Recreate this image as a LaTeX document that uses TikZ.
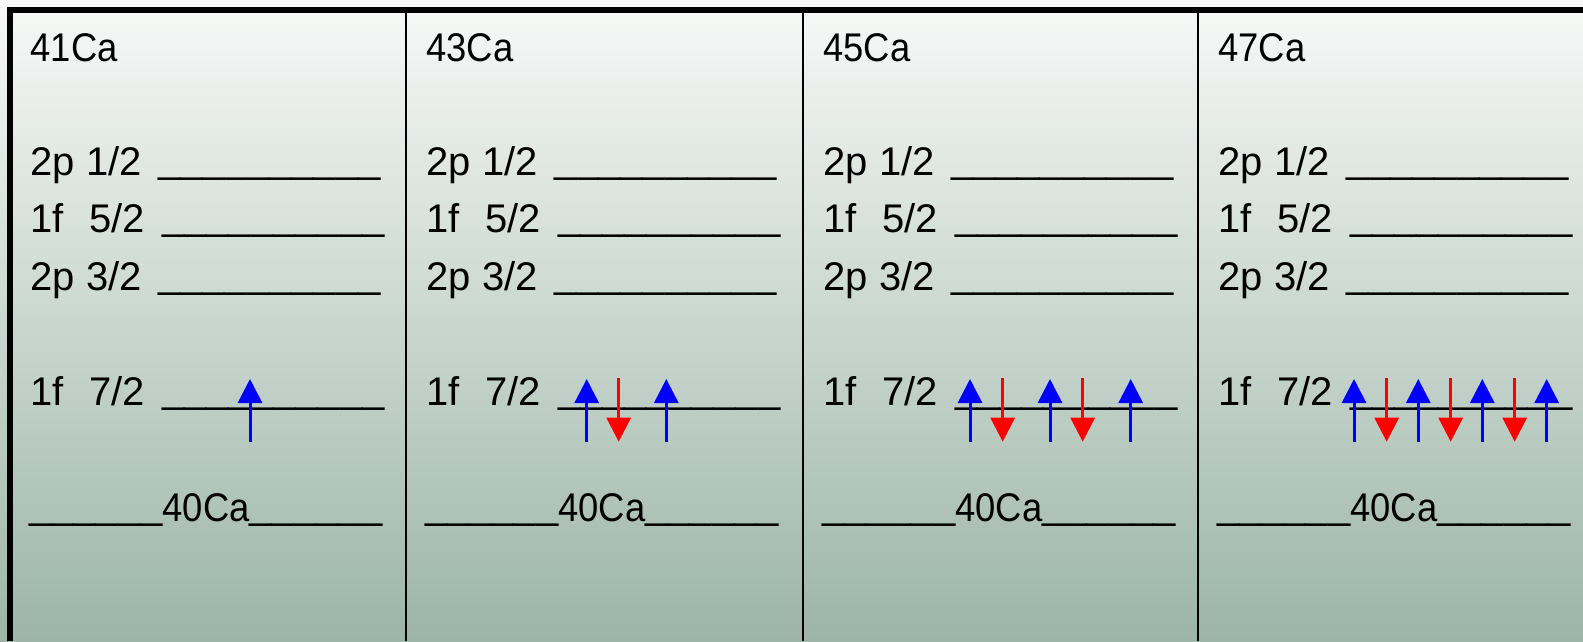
\documentclass[tikz,border=0pt]{standalone}
\usepackage{fontspec}
\setmainfont{Liberation Sans}
\newfontfamily\narrowfont[FakeStretch=0.91]{Liberation Sans}
\usetikzlibrary{arrows.meta}
\definecolor{bgtop}{RGB}{248,249,248}
\definecolor{bgmid}{RGB}{218,226,221}
\definecolor{bgbot}{RGB}{156,181,168}
\definecolor{spinup}{RGB}{0,0,255}
\definecolor{spindown}{RGB}{255,0,0}
\tikzset{
  lbl/.style={anchor=base west, inner sep=0pt, outer sep=0pt, font=\fontsize{40}{48}\selectfont, text=black},
  lvl/.style={lbl},
  frame/.style={draw=black, line width=6pt},
  divider/.style={draw=black, line width=2.5pt},
  upspin/.style={draw=spinup, line width=3pt, -{Triangle[length=24pt,width=24pt]}},
  downspin/.style={draw=spindown, line width=3pt, -{Triangle[length=24pt,width=24pt]}},
}
\newcommand{\uls}[1]{\raisebox{3pt}{#1}}
\newcommand{\mypanel}[3]{%
  \node[lbl] (t#2) at (#1+20.5,61) {\narrowfont #3};
  \node[lbl] (a#2) at (#1+20.5,175) {2p 1/2};
  \node[lvl] (ua#2) at (#1+148,175) {\uls{\_\_\_\_\_\_\_\_\_\_}};
  \node[lbl] (b#2) at (#1+20.5,232.7) {1f\ \ \kern3pt 5/2};
  \node[lvl] (ub#2) at (#1+152,232.7) {\uls{\_\_\_\_\_\_\_\_\_\_}};
  \node[lbl] (c#2) at (#1+20.5,290) {2p 3/2};
  \node[lvl] (uc#2) at (#1+148,290) {\uls{\_\_\_\_\_\_\_\_\_\_}};
  \node[lbl] (d#2) at (#1+20.5,405.7) {1f\ \ \kern3pt 7/2};
  \node[lvl] (ud#2) at (#1+152,405.7) {\uls{\_\_\_\_\_\_\_\_\_\_}};
  \node[lbl] (e#2) at (#1+19,521) {\uls{\_\_\_\_\_\_}{\narrowfont 40Ca}\uls{\_\_\_\_\_\_}};
}
\newcommand{\uparr}[1]{\draw[upspin] (#1,441.7) -- (#1,379);}
\newcommand{\dnarr}[1]{\draw[downspin] (#1,378) -- (#1,441.7);}
\begin{document}
\begin{tikzpicture}[x=1pt,y=-1pt]
  \useasboundingbox (0,0) rectangle (1583,641);
  \shade[top color=bgtop, middle color=bgmid, bottom color=bgbot] (0,0) rectangle (1583,641);
  % frame
  \draw[frame] (10.3,641) -- (10.3,10.3) -- (1583,10.3);
  \draw[divider] (406,10.3) -- (406,641);
  \draw[divider] (803,10.3) -- (803,641);
  \draw[divider] (1198,10.3) -- (1198,641);
  % panels
  \mypanel{10.2}{1}{41Ca}
  \mypanel{406}{2}{43Ca}
  \mypanel{803}{3}{45Ca}
  \mypanel{1198}{4}{47Ca}
  % spins
  \uparr{250}
  \uparr{586.7} \dnarr{618.7} \uparr{666.3}
  \uparr{970} \dnarr{1002.7} \uparr{1050} \dnarr{1082.7} \uparr{1130.7}
  \uparr{1354} \dnarr{1386.7} \uparr{1418.3} \dnarr{1450.7} \uparr{1482.3} \dnarr{1514.7} \uparr{1546.7}
\end{tikzpicture}
\end{document}
